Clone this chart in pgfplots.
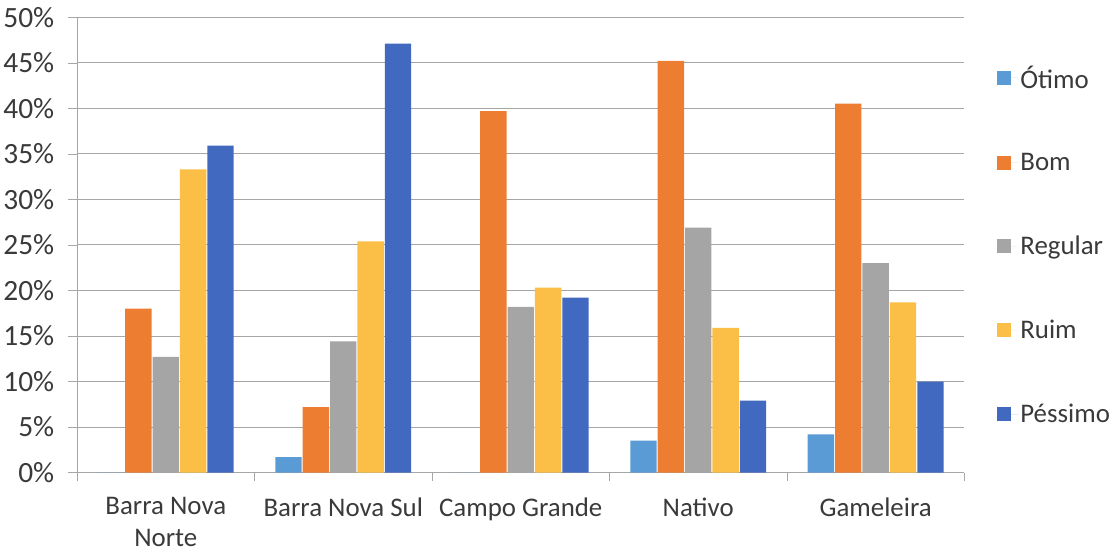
\documentclass[border=0pt]{standalone}
\usepackage{pgfplots}
\pgfplotsset{compat=1.18}
\usepackage{fontspec}
\setmainfont{Carlito}
\definecolor{cOtimo}{HTML}{5B9BD5}
\definecolor{cBom}{HTML}{ED7D31}
\definecolor{cReg}{HTML}{A5A5A5}
\definecolor{cRuim}{HTML}{FBBE46}
\definecolor{cPess}{HTML}{4169C0}
\definecolor{txt}{HTML}{3A3A3A}
\begin{document}
\begin{tikzpicture}
\begin{axis}[
  name=ax,
  scale only axis,
  width=875pt, height=449pt,
  font=\fontsize{26.5}{32}\selectfont,
  ybar=1pt, bar width=26pt,
  xmin=-0.5, xmax=4.5,
  ymin=0, ymax=50,
  ytick={0,5,...,50},
  yticklabel={\pgfmathprintnumber{\tick}\%},
  /pgf/number format/assume math mode=true,
  xtick={0,1,2,3,4},
  xticklabels={{Barra Nova\\Norte},{Barra Nova Sul},{Campo Grande},{Nativo},{Gameleira}},
  xticklabel style={align=center, text=txt, yshift=-12pt, font=\fontsize{26.5}{31}\selectfont},
  yticklabel style={text=txt, xshift=-10pt, font=\fontsize{29}{32}\selectfont},
  minor xtick={-0.5,0.5,1.5,2.5,3.5,4.5},
  major x tick style={draw=none},
  minor x tick style={draw=gray!70},
  major y tick style={draw=gray!70},
  tick align=outside,
  major tick length=9pt, minor tick length=8pt,
  axis x line*=bottom, axis y line*=left,
  axis line style={gray!70, -},
  ymajorgrids, grid style={gray!70, line width=0.8pt},
  legend style={at={(1,0.5)}, anchor=west, xshift=29pt, draw=none, fill=none,
    font=\fontsize{26.5}{32}\selectfont, text=txt, row sep=59pt,
    legend cell align=left},
  legend image code/.code={\fill[#1] (0pt,-7pt) rectangle (14pt,7pt); \path (0pt,0pt) -- (21pt,0pt);},
  every axis plot/.append style={draw=none},
]
\addplot[fill=cOtimo] coordinates {(0,0) (1,1.7) (2,0) (3,3.5) (4,4.2)};
\addplot[fill=cBom] coordinates {(0,18.0) (1,7.2) (2,39.7) (3,45.2) (4,40.5)};
\addplot[fill=cReg] coordinates {(0,12.7) (1,14.4) (2,18.2) (3,26.9) (4,23.0)};
\addplot[fill=cRuim] coordinates {(0,33.3) (1,25.4) (2,20.3) (3,15.9) (4,18.7)};
\addplot[fill=cPess] coordinates {(0,35.9) (1,47.1) (2,19.2) (3,7.9) (4,10.0)};
\legend{Ótimo,Bom,Regular,Ruim,Péssimo}
\end{axis}
\path ([yshift=17pt]ax.north west) -- ([yshift=17pt]ax.north east);
\path ([yshift=-82pt]ax.south west) -- ([yshift=-82pt]ax.south east);
\end{tikzpicture}
\end{document}
